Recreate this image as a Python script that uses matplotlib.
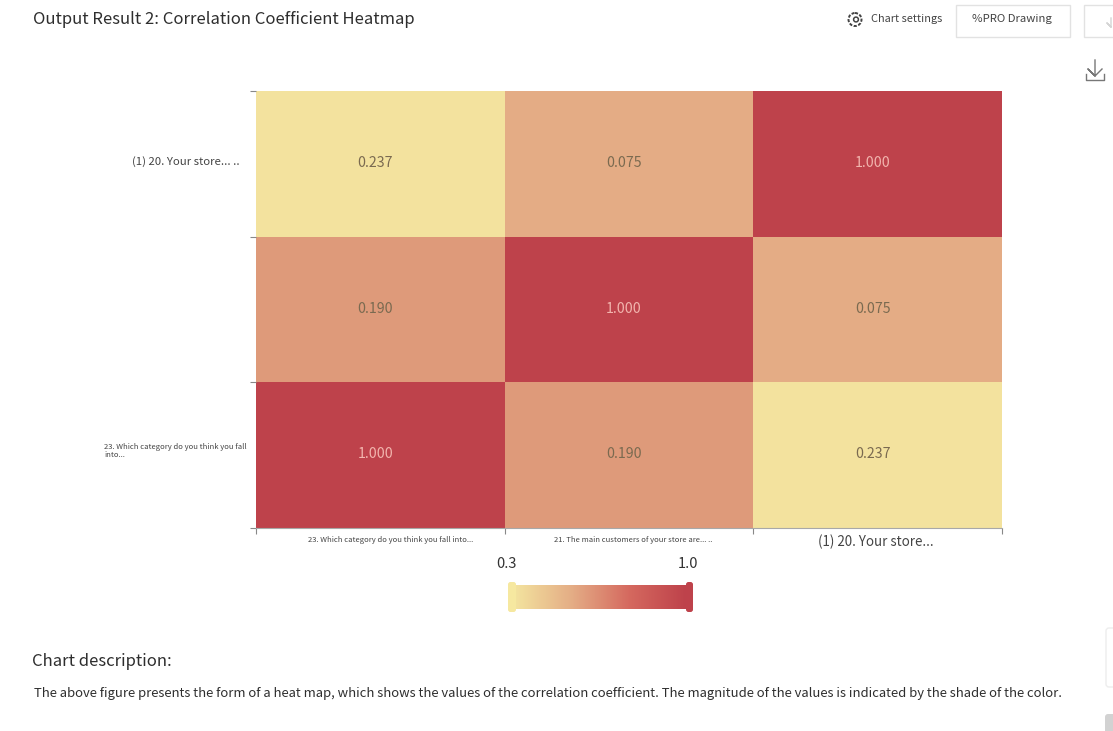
#!/usr/bin/env python3

import numpy as np
import matplotlib
matplotlib.use("Agg")
import matplotlib.pyplot as plt
from matplotlib.colors import BoundaryNorm, LinearSegmentedColormap, ListedColormap
from matplotlib.patches import Circle, FancyBboxPatch, Rectangle

plt.rcParams["font.family"] = ["Noto Sans CJK SC", "DejaVu Sans"]

W, H = 1113, 731

# rows from top to bottom, as in the picture
row_labels = ["(1) 20. Your store... ..", "", "23. Which category do you think you fall\ninto..."]
col_labels = ["23. Which category do you think you fall into...",
              "21. The main customers of your store are... ..",
              "(1) 20. Your store..."]
values = [[0.237, 0.075, 1.000],
          [0.190, 1.000, 0.075],
          [1.000, 0.190, 0.237]]
# the shades in the picture do not follow the numbers, so each value has its own
shade_values = [0.075, 0.190, 0.237, 1.000]
shade_colors = ["#E4AC85", "#DE9A7A", "#F3E29E", "#BE424B"]
text_colors = {1.000: "#F2B5AE"}
scale_colors = ["#F3E29E", "#E4AC85", "#D5695F", "#BE424B"]
scale_labels = ["0.3", "1.0"]


def px(x, y):
    return x / W, 1 - y / H


def box(x0, y0, x1, y1):
    return [x0 / W, 1 - y1 / H, (x1 - x0) / W, (y1 - y0) / H]


def label(x, y, s, size, color="#333333", ha="left", **kw):
    fx, fy = px(x, y + 1)
    fig.text(fx, fy, s, fontsize=size, color=color, ha=ha, va="center", **kw)


fig = plt.figure(figsize=(W / 100, H / 100), dpi=100)
bg = fig.add_axes([0, 0, 1, 1])
bg.set_xlim(0, W)
bg.set_ylim(H, 0)
bg.axis("off")

# heatmap
ax = fig.add_axes(box(256, 91, 1002, 528))
data = np.array(values)
edges = [0.0, 0.13, 0.21, 0.6, 1.1]
ax.pcolormesh(data, cmap=ListedColormap(shade_colors), norm=BoundaryNorm(edges, 4))
ax.set_ylim(3, 0)
for r in range(3):
    for c in range(3):
        v = values[r][c]
        ax.text(c + 0.48, r + 0.495, f"{v:.3f}", ha="center", va="center", fontsize=10.2,
                color=text_colors.get(v, "#7A6A50"))
for side in ["top", "right", "left"]:
    ax.spines[side].set_visible(False)
ax.spines["bottom"].set_color("#A8A8A8")
ax.spines["bottom"].set_linewidth(0.8)
ax.set_xticks([0, 1, 2, 3])
ax.set_yticks([0, 1, 2, 3])
ax.set_xticklabels([])
ax.set_yticklabels([])
ax.tick_params(length=4, width=0.8, color="#888888")

# tick labels, the small ones are squeezed in the picture
label(240, 161, row_labels[0], 8.2, ha="right", color="#444444")
label(104, 450, row_labels[2], 5.5, color="#444444", linespacing=1.1)
label(391, 539, col_labels[0], 5.5, ha="center", color="#444444")
label(633, 539, col_labels[1], 5.5, ha="center", color="#444444")
label(876, 541, col_labels[2], 9.6, ha="center", color="#444444")

# colour scale
label(506, 563, scale_labels[0], 10.5, ha="center")
label(688, 563, scale_labels[1], 10.5, ha="center")
cax = fig.add_axes(box(516, 585, 686, 609))
cax.imshow(np.linspace(0, 1, 256)[None, :], aspect="auto",
           cmap=LinearSegmentedColormap.from_list("scale", scale_colors))
cax.axis("off")
bg.add_patch(FancyBboxPatch((508, 582), 8, 30, boxstyle="round,pad=0,rounding_size=2.5",
                            fc="#F6E8A0", ec="none"))
bg.add_patch(FancyBboxPatch((686, 582), 7, 30, boxstyle="round,pad=0,rounding_size=2.5",
                            fc="#BE424B", ec="none"))

# page around the chart
label(33, 19, "Output Result 2: Correlation Coefficient Heatmap", 12.0, color="#2E2E2E")
label(32, 660, "Chart description:", 12, color="#2E2E2E")
label(34, 692, "The above figure presents the form of a heat map, which shows the values of the "
      "correlation coefficient. The magnitude of the values is indicated by the shade of the color.",
      9.4, color="#2E2E2E")
label(871, 18, "Chart settings", 7.9, color="#444444")
label(1012, 18, "%PRO Drawing", 8.2, color="#444444", ha="center")
bg.add_patch(Rectangle((956, 4.5), 114, 32, fc="white", ec="#E2E2E2", lw=1))
bg.add_patch(Rectangle((1084, 4.5), 40, 32, fc="white", ec="#E2E2E2", lw=1))
bg.add_patch(Circle((855, 19.5), 6.5, fc="none", ec="#444444", lw=1.4, ls=(0, (1.6, 0.8))))
bg.add_patch(Circle((856, 19.5), 2.4, fc="none", ec="#444444", lw=1.1))
# download icons
bg.plot([1095, 1095, 1088, 1095, 1102], [60, 76, 69, 76, 69], color="#777777", lw=1)
bg.plot([1086, 1086, 1104, 1104], [74, 80, 80, 74], color="#777777", lw=1)
bg.plot([1111, 1111, 1107, 1111], [18, 27, 23, 27], color="#D5D5D5", lw=1)
bg.add_patch(FancyBboxPatch((1106, 628), 20, 59, boxstyle="round,pad=0,rounding_size=3",
                            fc="white", ec="#EDEDED", lw=1))
bg.add_patch(FancyBboxPatch((1105, 714), 20, 30, boxstyle="round,pad=0,rounding_size=3",
                            fc="#D2D2D2", ec="none"))

fig.savefig("out.png", dpi=100)
